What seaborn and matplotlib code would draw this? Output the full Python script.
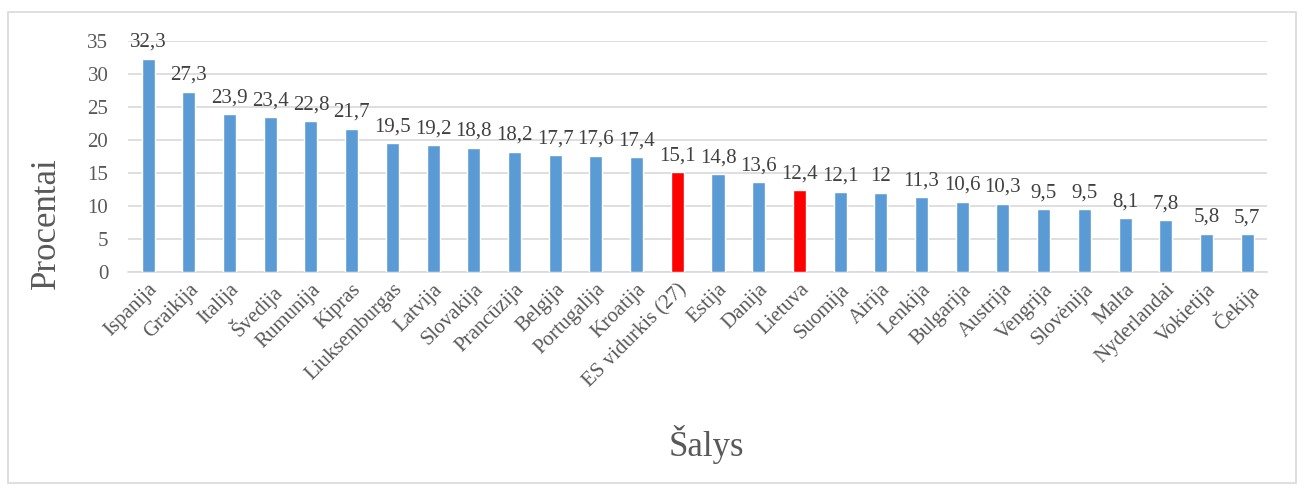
import matplotlib
matplotlib.use("Agg")
import matplotlib.pyplot as plt
import seaborn as sns
import pandas as pd
from matplotlib.patches import Rectangle

countries = ["Ispanija", "Graikija", "Italija", "Švedija", "Rumunija", "Kipras",
             "Liuksemburgas", "Latvija", "Slovakija", "Prancūzija", "Belgija",
             "Portugalija", "Kroatija", "ES vidurkis (27)", "Estija", "Danija",
             "Lietuva", "Suomija", "Airija", "Lenkija", "Bulgarija", "Austrija",
             "Vengrija", "Slovėnija", "Malta", "Nyderlandai", "Vokietija", "Čekija"]
values = [32.3, 27.3, 23.9, 23.4, 22.8, 21.7, 19.5, 19.2, 18.8, 18.2, 17.7,
          17.6, 17.4, 15.1, 14.8, 13.6, 12.4, 12.1, 12.0, 11.3, 10.6, 10.3,
          9.5, 9.5, 8.1, 7.8, 5.8, 5.7]
highlight = ["ES vidurkis (27)", "Lietuva"]
y_ticks = [0, 5, 10, 15, 20, 25, 30, 35]

blue = "#5b9bd5"
red = "#ff0000"
txt = "#595959"

sns.set_theme(style="white")
plt.rcParams['font.family'] = ['Liberation Serif', 'DejaVu Serif']

df = pd.DataFrame({"country": countries, "value": values})
palette = {c: (red if c in highlight else blue) for c in countries}

fig = plt.figure(figsize=(13.04, 4.88), dpi=100)
ax = fig.add_axes([0.098, 0.443, 0.874, 0.473])

sns.barplot(data=df, x="country", y="value", hue="country", palette=palette,
            width=0.32, legend=False, ax=ax, saturation=1, zorder=3)

ax.set_ylim(0, 35)
ax.set_xlim(-0.5, len(countries) - 0.5)
ax.set_yticks(y_ticks)
ax.set_yticklabels([str(t) for t in y_ticks], fontsize=15, color=txt)
ax.yaxis.grid(True, color="#d9d9d9", linewidth=1.2, zorder=0)
ax.set_axisbelow(True)
for s in ["top", "right", "left"]:
    ax.spines[s].set_visible(False)
ax.spines["bottom"].set_color("#d9d9d9")
ax.spines["bottom"].set_linewidth(1.2)
ax.tick_params(axis="y", length=0, pad=14)
ax.tick_params(axis="x", length=0, pad=6)

ax.set_xticks(range(len(countries)))
ax.set_xticklabels(countries, rotation=45, ha="right", rotation_mode="anchor",
                   fontsize=15, color=txt)

for i, v in enumerate(values):
    lab = f"{v:g}".replace(".", ",")
    ax.annotate(lab, (i, v), xytext=(0, 5), textcoords="offset points",
                ha="center", va="bottom", fontsize=15, color="#404040")

ax.set_ylabel("")
ax.set_xlabel("")
fig.text(0.036, 0.543, "Procentai", fontsize=25, color=txt, ha="center",
         va="center", rotation=90)
fig.text(0.542, 0.09, "Šalys", fontsize=25, color=txt, ha="center", va="center")

fig.patches.append(Rectangle((0.006, 0.01), 0.988, 0.965, transform=fig.transFigure,
                             fill=False, edgecolor="#d9d9d9", linewidth=1.2))

fig.savefig("out.png", dpi=100)
